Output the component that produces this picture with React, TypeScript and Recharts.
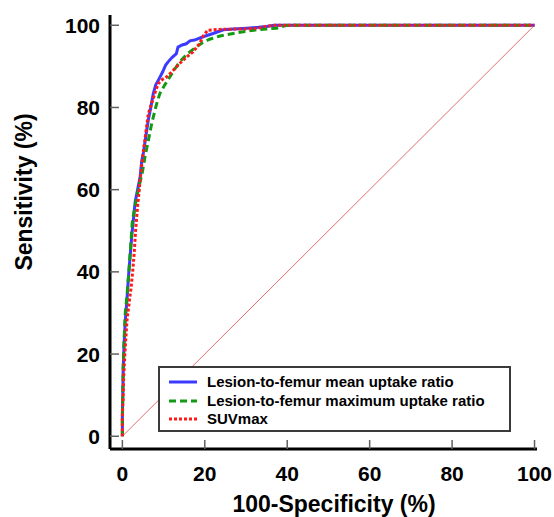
import React from 'react';
import { LineChart, Line, XAxis, YAxis } from 'recharts';

const xTicks = [0, 20, 40, 60, 80, 100];
const yTicks = [0, 20, 40, 60, 80, 100];

const meanX = [0, 0, 0.1, 0.2, 0.4, 0.7, 1.1, 1.5, 1.9, 2.3, 2.7, 3.1, 3.7, 4.3, 4.7, 5.1, 5.7, 6.3, 6.9, 7.5, 8.1, 8.7, 9.7, 10.5, 11.1, 12.1, 13.1, 13.5, 14.5, 15.5, 16.4, 17.5, 19.6, 22, 24.5, 27, 30.1, 33, 35, 36.8, 40, 100];
const meanY = [0, 5, 10, 16, 22, 28, 33, 39, 44, 49, 53, 57, 60, 63, 67, 69, 73, 77, 80, 83.4, 85.5, 86.6, 88.5, 90.3, 91.1, 92.2, 93.1, 94.7, 95.2, 95.5, 96.2, 96.4, 97.2, 98, 98.9, 99.1, 99.3, 99.5, 99.7, 100, 100, 100];

const maxX = [0, 0, 0.1, 0.2, 0.4, 0.7, 1.1, 1.5, 2.0, 2.4, 2.9, 3.5, 4.1, 4.8, 5.5, 6.3, 7.1, 7.9, 8.5, 9.1, 10.3, 11.5, 12.7, 13.9, 15.7, 17.9, 19.5, 21.2, 23.7, 26.9, 29.7, 32.6, 35, 37.4, 40, 100];
const maxY = [0, 5, 10, 17, 23, 30, 34, 39, 46, 52, 55, 58.2, 61, 64, 68, 72, 76, 79.3, 81.5, 83.4, 85.5, 87.4, 89.3, 91.1, 93, 94.7, 95.8, 96.6, 97.4, 98, 98.5, 98.9, 99.1, 99.3, 100, 100];

const suvX = [0, 0, 0.2, 0.3, 0.6, 1.1, 1.7, 2.1, 2.5, 2.9, 3.2, 3.7, 4.1, 4.3, 4.7, 5.2, 5.7, 6.3, 7.1, 7.9, 8.7, 9.7, 10.7, 12.3, 13.9, 15.5, 17.1, 18.7, 19.7, 20.7, 23.5, 29, 33, 35, 37, 40, 100];
const suvY = [0, 5, 9.5, 14, 20, 28, 33, 36, 40, 45, 50, 56, 60, 62.3, 66, 70, 74, 78.5, 81, 83.5, 85.8, 86.8, 87.4, 89, 90.7, 92.2, 93.5, 95.5, 97.5, 98.8, 99.0, 99.1, 99.3, 99.8, 100, 100, 100];

const diagX = [0, 100];
const diagY = [0, 100];

const seriesNames = [
  'Lesion-to-femur mean uptake ratio',
  'Lesion-to-femur maximum uptake ratio',
  'SUVmax',
];

const toPoints = (xs: number[], ys: number[]) => xs.map((x, i) => ({ x, y: ys[i] }));

const FONT = '"Liberation Sans", Arial, Helvetica, sans-serif';

const series = [
  { name: seriesNames[0], data: toPoints(meanX, meanY), color: '#3b3bff', dash: undefined as string | undefined },
  { name: seriesNames[1], data: toPoints(maxX, maxY), color: '#139a13', dash: '7 4' },
  { name: seriesNames[2], data: toPoints(suvX, suvY), color: '#ff1a1a', dash: '3 2' },
];

const XTick = (props: any) => {
  const { x, y, payload } = props;
  return (
    <g>
      <line x1={x} y1={y} x2={x} y2={y - 9} stroke="#606060" strokeWidth={1.5} />
      <text x={x} y={y + 32} textAnchor="middle" fontFamily={FONT} fontWeight="bold" fontSize={21} fill="#000">
        {payload.value}
      </text>
    </g>
  );
};

const YTick = (props: any) => {
  const { x, y, payload } = props;
  return (
    <g>
      <line x1={x} y1={y} x2={x + 9} y2={y} stroke="#606060" strokeWidth={1.5} />
      <text x={x - 10} y={y + 7.5} textAnchor="end" fontFamily={FONT} fontWeight="bold" fontSize={21} fill="#000">
        {payload.value}
      </text>
    </g>
  );
};

const XTitle = () => (
  <text x={334} y={512} textAnchor="middle" fontFamily={FONT} fontWeight="bold" fontSize={23} fill="#000">
    100-Specificity (%)
  </text>
);

const YTitle = () => (
  <text x={32} y={192} textAnchor="middle" transform="rotate(-90 32 192)" fontFamily={FONT} fontWeight="bold" fontSize={23} fill="#000">
    Sensitivity (%)
  </text>
);

export default function App() {
  return (
    <div style={{ position: 'absolute', left: 0, top: 0, width: 554, height: 517, background: '#fff', overflow: 'hidden' }}>
      <LineChart width={554} height={517} margin={{ top: 15, right: 17, bottom: 0, left: 0 }}>
        <XAxis
          type="number"
          dataKey="x"
          domain={[-3, 100.6]}
          ticks={xTicks}
          allowDataOverflow
          height={68}
          tickSize={0}
          tickMargin={0}
          tickLine={false}
          axisLine={{ stroke: '#000', strokeWidth: 3 }}
          tick={<XTick />}
          label={<XTitle />}
        />
        <YAxis
          type="number"
          dataKey="y"
          domain={[-3.1, 102.5]}
          ticks={yTicks}
          allowDataOverflow
          width={110}
          tickSize={0}
          tickMargin={0}
          tickLine={false}
          axisLine={{ stroke: '#000', strokeWidth: 3 }}
          tick={<YTick />}
          label={<YTitle />}
        />
        <Line
          data={toPoints(diagX, diagY)}
          dataKey="y"
          stroke="#e07070"
          strokeWidth={1}
          dot={false}
          isAnimationActive={false}
          legendType="none"
        />
        {series.map((s) => (
          <Line
            key={s.name}
            name={s.name}
            data={s.data}
            dataKey="y"
            stroke={s.color}
            strokeWidth={3}
            strokeDasharray={s.dash}
            dot={false}
            isAnimationActive={false}
            strokeLinejoin="miter"
          />
        ))}
      </LineChart>
      <div
        style={{
          position: 'absolute',
          left: 158,
          top: 366,
          width: 349,
          height: 62,
          border: '2px solid #3a3a3a',
          background: '#fff',
          fontFamily: FONT,
          fontWeight: 'bold',
          fontSize: 15,
          color: '#000',
        }}
      >
        {series.map((s, i) => (
          <div key={s.name} style={{ position: 'absolute', left: 0, top: 5 + i * 18.5, height: 18, width: '100%' }}>
            <svg width={40} height={18} style={{ position: 'absolute', left: 7, top: 0 }}>
              <line x1={2} y1={9} x2={30} y2={9} stroke={s.color} strokeWidth={3} strokeDasharray={s.dash} />
            </svg>
            <span style={{ position: 'absolute', left: 47, top: 0, lineHeight: '18px', whiteSpace: 'nowrap' }}>{s.name}</span>
          </div>
        ))}
      </div>
    </div>
  );
}
